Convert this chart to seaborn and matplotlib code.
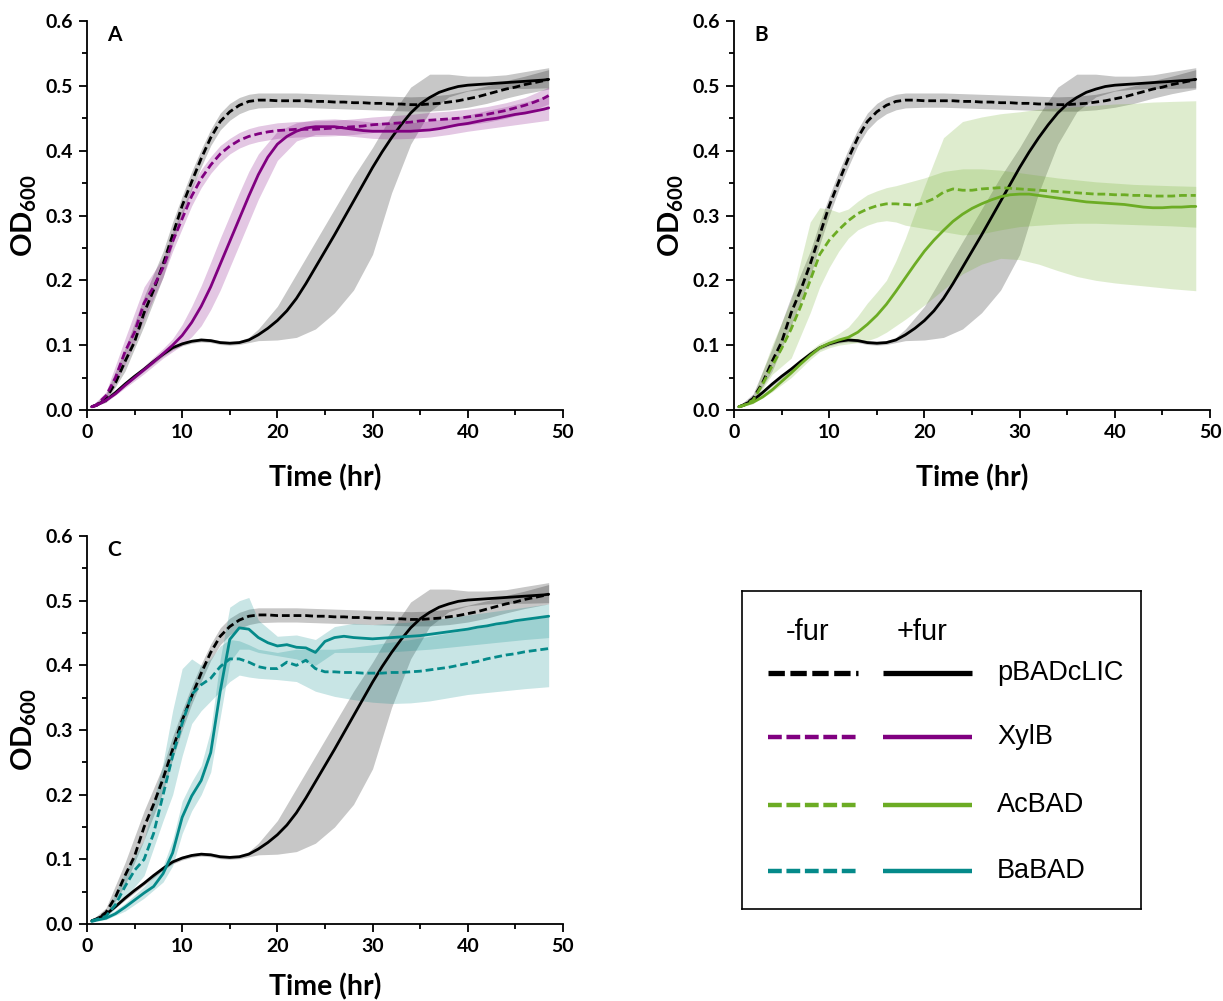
import matplotlib
matplotlib.use("Agg")
import matplotlib.pyplot as plt
import seaborn as sns

# ---------------- data ----------------
T = [0.5, 1, 2, 3, 4, 5, 6, 7, 8, 9, 10, 11, 12, 13, 14, 15, 16, 17, 18, 19,
     20, 21, 22, 23, 24, 25, 26, 27, 28, 29, 30, 31, 32, 33, 34, 35, 36, 37, 38, 39,
     40, 41, 42, 43, 44, 45, 46, 47, 48, 48.5]
TB = [0.5, 2, 4, 6, 8, 9, 10, 11, 12, 13, 14, 15, 16, 17, 18, 20, 22, 24, 26, 28,
      30, 32, 34, 36, 38, 40, 42, 44, 46, 48.5]

# pBADcLIC
ctrl_minus = [0.005, 0.007, 0.018, 0.042, 0.075, 0.105, 0.15, 0.185, 0.225, 0.27,
              0.315, 0.352, 0.388, 0.42, 0.445, 0.46, 0.47, 0.476, 0.478, 0.478,
              0.477, 0.477, 0.477, 0.477, 0.476, 0.476, 0.475, 0.475, 0.474, 0.474,
              0.473, 0.473, 0.472, 0.472, 0.471, 0.471, 0.472, 0.473, 0.475, 0.477,
              0.48, 0.483, 0.487, 0.491, 0.495, 0.498, 0.502, 0.505, 0.508, 0.51]
ctrl_minus_lo = [0.004, 0.012, 0.06, 0.13, 0.205, 0.255, 0.3, 0.34, 0.375, 0.408,
                 0.432, 0.447, 0.457, 0.463, 0.466, 0.467, 0.467, 0.466, 0.465, 0.464,
                 0.463, 0.462, 0.461, 0.461, 0.463, 0.467, 0.473, 0.481, 0.488, 0.495]
ctrl_minus_hi = [0.006, 0.025, 0.095, 0.175, 0.245, 0.29, 0.33, 0.368, 0.402, 0.433,
                 0.458, 0.473, 0.482, 0.487, 0.489, 0.489, 0.489, 0.488, 0.487, 0.486,
                 0.485, 0.484, 0.483, 0.484, 0.487, 0.493, 0.5, 0.508, 0.515, 0.525]
ctrl_plus = [0.005, 0.008, 0.015, 0.027, 0.04, 0.052, 0.063, 0.075, 0.086, 0.096,
             0.102, 0.106, 0.108, 0.107, 0.104, 0.103, 0.104, 0.108, 0.116, 0.126,
             0.138, 0.153, 0.172, 0.195, 0.22, 0.245, 0.27, 0.296, 0.322, 0.348,
             0.374, 0.398, 0.42, 0.44, 0.458, 0.472, 0.482, 0.49, 0.495, 0.499,
             0.501, 0.502, 0.503, 0.504, 0.505, 0.506, 0.507, 0.508, 0.509, 0.51]
ctrl_plus_lo = [0.004, 0.013, 0.037, 0.06, 0.083, 0.093, 0.099, 0.103, 0.105, 0.104,
                0.101, 0.1, 0.101, 0.104, 0.107, 0.108, 0.112, 0.125, 0.15, 0.185,
                0.24, 0.335, 0.41, 0.46, 0.483, 0.492, 0.495, 0.496, 0.496, 0.497]
ctrl_plus_hi = [0.006, 0.017, 0.043, 0.066, 0.089, 0.099, 0.105, 0.109, 0.111, 0.11,
                0.107, 0.106, 0.107, 0.112, 0.125, 0.16, 0.21, 0.26, 0.31, 0.36,
                0.405, 0.455, 0.498, 0.518, 0.518, 0.515, 0.515, 0.517, 0.522, 0.528]

# XylB
xyl_minus = [0.005, 0.008, 0.022, 0.05, 0.09, 0.12, 0.165, 0.19, 0.22, 0.26,
             0.295, 0.33, 0.357, 0.378, 0.395, 0.407, 0.416, 0.422, 0.426, 0.429,
             0.431, 0.432, 0.433, 0.433, 0.433, 0.434, 0.435, 0.436, 0.437, 0.438,
             0.44, 0.441, 0.442, 0.443, 0.444, 0.446, 0.447, 0.448, 0.449, 0.45,
             0.452, 0.454, 0.456, 0.459, 0.462, 0.466, 0.47, 0.475, 0.481, 0.485]
xyl_minus_lo = [0.004, 0.016, 0.07, 0.14, 0.205, 0.245, 0.28, 0.315, 0.343, 0.365,
                0.382, 0.395, 0.404, 0.41, 0.414, 0.419, 0.421, 0.422, 0.423, 0.425,
                0.428, 0.43, 0.432, 0.435, 0.437, 0.44, 0.444, 0.45, 0.458, 0.472]
xyl_minus_hi = [0.006, 0.028, 0.11, 0.19, 0.235, 0.275, 0.31, 0.345, 0.371, 0.391,
                0.408, 0.419, 0.428, 0.434, 0.438, 0.443, 0.445, 0.446, 0.447, 0.449,
                0.452, 0.454, 0.456, 0.459, 0.461, 0.464, 0.468, 0.474, 0.482, 0.498]
xyl_plus = [0.005, 0.007, 0.015, 0.025, 0.038, 0.05, 0.062, 0.074, 0.087, 0.1,
            0.115, 0.135, 0.16, 0.19, 0.225, 0.26, 0.295, 0.33, 0.363, 0.39,
            0.41, 0.422, 0.43, 0.435, 0.437, 0.437, 0.437, 0.435, 0.433, 0.431,
            0.43, 0.43, 0.43, 0.43, 0.43, 0.431, 0.432, 0.434, 0.437, 0.44,
            0.442, 0.445, 0.448, 0.45, 0.453, 0.456, 0.458, 0.461, 0.464, 0.466]
xyl_plus_lo = [0.004, 0.012, 0.034, 0.056, 0.08, 0.09, 0.1, 0.113, 0.13, 0.155,
               0.185, 0.22, 0.255, 0.29, 0.325, 0.385, 0.415, 0.425, 0.425, 0.422,
               0.419, 0.418, 0.419, 0.421, 0.425, 0.43, 0.434, 0.438, 0.442, 0.447]
xyl_plus_hi = [0.006, 0.018, 0.042, 0.068, 0.095, 0.11, 0.132, 0.16, 0.192, 0.228,
               0.265, 0.3, 0.335, 0.368, 0.395, 0.43, 0.443, 0.448, 0.449, 0.447,
               0.444, 0.443, 0.443, 0.446, 0.45, 0.455, 0.462, 0.468, 0.475, 0.485]

# AcBAD
ac_minus = [0.005, 0.007, 0.015, 0.04, 0.068, 0.095, 0.125, 0.16, 0.2, 0.24,
            0.262, 0.278, 0.292, 0.303, 0.31, 0.315, 0.318, 0.318, 0.317, 0.316,
            0.32, 0.326, 0.336, 0.341, 0.339, 0.339, 0.341, 0.342, 0.343, 0.342,
            0.341, 0.34, 0.339, 0.338, 0.337, 0.336, 0.335, 0.334, 0.333, 0.333,
            0.332, 0.332, 0.331, 0.331, 0.33, 0.33, 0.33, 0.331, 0.331, 0.331]
ac_minus_lo = [0.004, 0.01, 0.055, 0.08, 0.15, 0.19, 0.22, 0.245, 0.265, 0.278,
               0.285, 0.29, 0.292, 0.29, 0.285, 0.28, 0.275, 0.27, 0.272, 0.278,
               0.283, 0.285, 0.287, 0.288, 0.288, 0.287, 0.286, 0.285, 0.284, 0.282]
ac_minus_hi = [0.006, 0.02, 0.1, 0.17, 0.29, 0.312, 0.31, 0.305, 0.31, 0.322,
               0.332, 0.338, 0.343, 0.346, 0.35, 0.358, 0.368, 0.372, 0.372, 0.37,
               0.366, 0.362, 0.358, 0.355, 0.352, 0.35, 0.348, 0.347, 0.346, 0.345]
ac_plus = [0.005, 0.007, 0.012, 0.02, 0.031, 0.044, 0.057, 0.071, 0.084, 0.096,
           0.103, 0.108, 0.112, 0.12, 0.132, 0.146, 0.163, 0.183, 0.204, 0.225,
           0.245, 0.262, 0.277, 0.291, 0.302, 0.311, 0.318, 0.324, 0.329, 0.332,
           0.333, 0.333, 0.331, 0.329, 0.327, 0.325, 0.323, 0.321, 0.32, 0.319,
           0.318, 0.317, 0.315, 0.313, 0.312, 0.312, 0.313, 0.313, 0.314, 0.314]
ac_plus_lo = [0.004, 0.01, 0.028, 0.05, 0.078, 0.09, 0.096, 0.1, 0.102, 0.104,
              0.107, 0.112, 0.12, 0.13, 0.14, 0.162, 0.186, 0.21, 0.225, 0.234,
              0.232, 0.225, 0.215, 0.206, 0.2, 0.196, 0.193, 0.19, 0.187, 0.184]
ac_plus_hi = [0.006, 0.015, 0.036, 0.064, 0.092, 0.103, 0.11, 0.118, 0.128, 0.145,
              0.165, 0.182, 0.2, 0.23, 0.265, 0.345, 0.42, 0.445, 0.452, 0.457,
              0.46, 0.464, 0.466, 0.468, 0.47, 0.472, 0.473, 0.475, 0.476, 0.477]

# BaBAD
ba_minus = [0.005, 0.007, 0.012, 0.03, 0.058, 0.083, 0.1, 0.14, 0.2, 0.26,
            0.31, 0.355, 0.37, 0.38, 0.398, 0.41, 0.41, 0.405, 0.398, 0.395,
            0.395, 0.405, 0.4, 0.408, 0.395, 0.39, 0.39, 0.389, 0.389, 0.388,
            0.388, 0.388, 0.389, 0.389, 0.39, 0.391, 0.393, 0.395, 0.397, 0.4,
            0.403, 0.406, 0.41, 0.413, 0.416, 0.418, 0.421, 0.423, 0.425, 0.426]
ba_minus_lo = [0.004, 0.009, 0.04, 0.075, 0.16, 0.2, 0.26, 0.31, 0.33, 0.345,
               0.36, 0.375, 0.385, 0.382, 0.38, 0.378, 0.375, 0.36, 0.352, 0.347,
               0.343, 0.341, 0.342, 0.345, 0.35, 0.355, 0.358, 0.361, 0.364, 0.367]
ba_minus_hi = [0.006, 0.016, 0.08, 0.13, 0.25, 0.33, 0.395, 0.41, 0.4, 0.41,
               0.43, 0.44, 0.438, 0.432, 0.425, 0.42, 0.425, 0.425, 0.425, 0.428,
               0.432, 0.436, 0.44, 0.445, 0.45, 0.455, 0.46, 0.465, 0.47, 0.475]
ba_plus = [0.004, 0.006, 0.009, 0.016, 0.026, 0.037, 0.048, 0.058, 0.078, 0.11,
           0.165, 0.198, 0.222, 0.265, 0.36, 0.44, 0.458, 0.456, 0.443, 0.435,
           0.43, 0.432, 0.428, 0.427, 0.42, 0.437, 0.443, 0.445, 0.443, 0.442,
           0.441, 0.442, 0.443, 0.444, 0.445, 0.446, 0.448, 0.45, 0.452, 0.454,
           0.456, 0.459, 0.461, 0.464, 0.466, 0.469, 0.471, 0.473, 0.475, 0.476]
ba_plus_lo = [0.003, 0.007, 0.02, 0.04, 0.065, 0.09, 0.14, 0.175, 0.2, 0.235,
              0.32, 0.405, 0.425, 0.425, 0.42, 0.415, 0.41, 0.4, 0.42, 0.42,
              0.42, 0.421, 0.423, 0.425, 0.428, 0.431, 0.434, 0.437, 0.44, 0.443]
ba_plus_hi = [0.005, 0.011, 0.032, 0.058, 0.09, 0.13, 0.19, 0.22, 0.245, 0.3,
              0.41, 0.49, 0.5, 0.505, 0.47, 0.445, 0.447, 0.44, 0.46, 0.465,
              0.463, 0.465, 0.467, 0.47, 0.474, 0.478, 0.482, 0.486, 0.49, 0.495]

strains = ["pBADcLIC", "XylB", "AcBAD", "BaBAD"]
colors = ["#000000", "#800080", "#6CAC24", "#058A8A"]
x_ticks = [0, 10, 20, 30, 40, 50]
y_ticks = [0.0, 0.1, 0.2, 0.3, 0.4, 0.5, 0.6]

# ---------------- style ----------------
sns.set_theme(style="ticks")
plt.rcParams["font.family"] = ["Lato", "DejaVu Sans"]
plt.rcParams["mathtext.fontset"] = "custom"
plt.rcParams["mathtext.bf"] = "Lato:bold"
plt.rcParams["mathtext.rm"] = "Lato"
plt.rcParams["mathtext.it"] = "Lato:italic"
for k in ["text.color", "axes.labelcolor", "xtick.color", "ytick.color", "axes.edgecolor"]:
    plt.rcParams[k] = "black"

DASH = (0, (2.8, 1.4))

fig = plt.figure(figsize=(12.23, 10.01), dpi=100)
axA = fig.add_axes([0.0711, 0.5904, 0.3892, 0.3886])
axB = fig.add_axes([0.6002, 0.5904, 0.3892, 0.3886])
axC = fig.add_axes([0.0711, 0.0769, 0.3892, 0.3876])


def series(ax, mean, lo, hi, color, dashed):
    ax.fill_between(TB, lo, hi, color=color, alpha=0.22,
                    lw=0, zorder=2)
    sns.lineplot(x=T, y=mean, ax=ax, color=color, lw=2.0, sort=False,
                 linestyle=DASH if dashed else "-", zorder=3)


def style_axes(ax, letter, xpad):
    ax.set_xlim(0, 50)
    ax.set_ylim(0, 0.6)
    ax.set_xticks(x_ticks)
    ax.set_xticks([5, 15, 25, 35, 45], minor=True)
    ax.set_yticks(y_ticks)
    ax.set_yticks([0.05, 0.15, 0.25, 0.35, 0.45, 0.55], minor=True)
    ax.set_xticklabels([f"{v:d}" for v in x_ticks])
    ax.set_yticklabels([f"{v:.1f}" for v in y_ticks])
    sns.despine(ax=ax)
    for s in ["left", "bottom"]:
        ax.spines[s].set_linewidth(1.3)
    ax.tick_params(which="major", direction="out", length=6, width=1.3, labelsize=14, pad=4)
    ax.tick_params(which="minor", direction="out", length=3.5, width=1.3)
    for lab in ax.get_xticklabels() + ax.get_yticklabels():
        lab.set_fontweight("bold")
    ax.set_xlabel("Time (hr)", fontsize=20.5, fontweight="bold", labelpad=xpad)
    ax.set_ylabel(r"$\mathbf{OD_{600}}$", fontsize=21, labelpad=5)
    ax.text(0.042, 0.965, letter, transform=ax.transAxes, fontsize=15,
            fontweight="bold", ha="left", va="center")


panels = [(axA, xyl_minus, xyl_minus_lo, xyl_minus_hi, xyl_plus, xyl_plus_lo, xyl_plus_hi, colors[1], "A", 17),
          (axB, ac_minus, ac_minus_lo, ac_minus_hi, ac_plus, ac_plus_lo, ac_plus_hi, colors[2], "B", 17),
          (axC, ba_minus, ba_minus_lo, ba_minus_hi, ba_plus, ba_plus_lo, ba_plus_hi, colors[3], "C", 13)]

for ax, m_mean, m_lo, m_hi, p_mean, p_lo, p_hi, col, letter, xpad in panels:
    series(ax, ctrl_minus, ctrl_minus_lo, ctrl_minus_hi, colors[0], True)
    series(ax, ctrl_plus, ctrl_plus_lo, ctrl_plus_hi, colors[0], False)
    series(ax, m_mean, m_lo, m_hi, col, True)
    series(ax, p_mean, p_lo, p_hi, col, False)
    style_axes(ax, letter, xpad)

# ---------------- legend box ----------------
lg = fig.add_axes([742 / 1223, 1 - 909 / 1001, 399 / 1223, 318 / 1001])
lg.set_xlim(0, 399)
lg.set_ylim(318, 0)
lg.set_xticks([])
lg.set_yticks([])
lg.set_facecolor("white")
for s in lg.spines.values():
    s.set_visible(True)
    s.set_linewidth(1.2)
    s.set_color("black")

leg_font = ["Liberation Sans", "DejaVu Sans"]
lg.text(66, 41, "-fur", fontsize=21, family=leg_font, ha="center", va="center")
lg.text(180, 41, "+fur", fontsize=21, family=leg_font, ha="center", va="center")
row_y = [82, 146, 214, 280]
for name, col, y in zip(strains, colors, row_y):
    lw = 3.8 if col == "#000000" else 3.2
    lg.plot([26, 116], [y, y], color=col, lw=lw, linestyle=(0, (3.1, 1.05)),
            solid_capstyle="butt", dash_capstyle="butt")
    lg.plot([141, 230], [y, y], color=col, lw=lw, solid_capstyle="butt")
    lg.text(255, y, name, fontsize=19.5, family=leg_font, ha="left", va="center")

fig.savefig("out.png", dpi=100)
